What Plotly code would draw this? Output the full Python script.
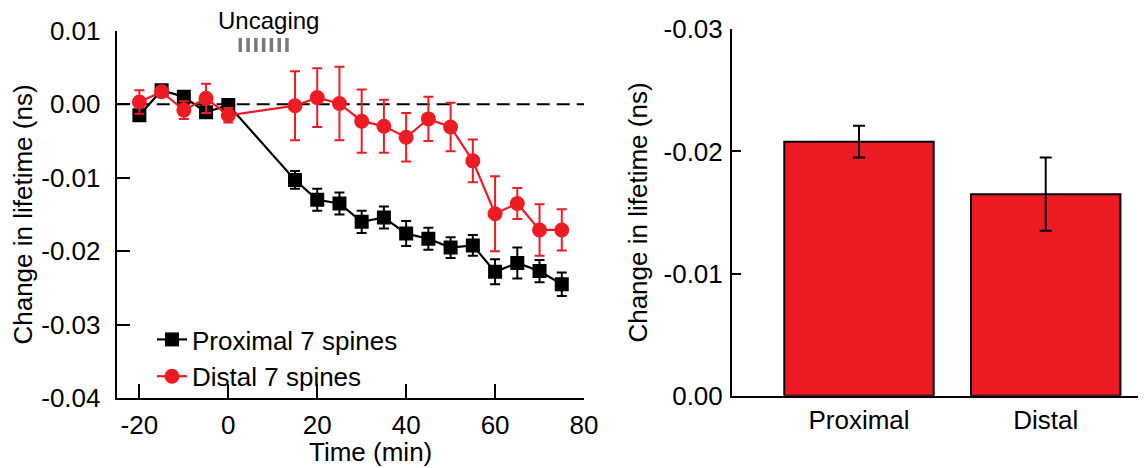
import plotly.graph_objects as go

# ---------------- data ----------------
time_min = [-20, -15, -10, -5, 0, 15, 20, 25, 30, 35, 40, 45, 50, 55, 60, 65, 70, 75]

proximal_mean = [-0.0015, 0.0019, 0.0010, -0.0011, -0.0001, -0.0103, -0.0130, -0.0135,
                 -0.0160, -0.0154, -0.0176, -0.0183, -0.0195, -0.0192, -0.0228, -0.0216,
                 -0.0227, -0.0245]
proximal_err = [0.0006, 0.0005, 0.0006, 0.0006, 0.0005, 0.0012, 0.0015, 0.0015,
                0.0015, 0.0015, 0.0017, 0.0015, 0.0014, 0.0014, 0.0017, 0.0021,
                0.0015, 0.0016]

distal_mean = [0.0003, 0.0017, -0.0008, 0.0008, -0.0015, -0.0002, 0.0009, 0.0001,
               -0.0023, -0.0030, -0.0045, -0.0020, -0.0031, -0.0077, -0.0149, -0.0135,
               -0.0171, -0.0171]
distal_err = [0.0016, 0.0006, 0.0012, 0.0020, 0.0010, 0.0047, 0.0040, 0.0050,
              0.0043, 0.0036, 0.0033, 0.0030, 0.0033, 0.0029, 0.0051, 0.0021,
              0.0035, 0.0028]

uncaging_times = [2.7, 4.45, 6.2, 7.95, 9.7, 11.45, 13.2]
uncaging_mark_low = 0.0071
uncaging_mark_high = 0.0090

bar_categories = ["Proximal", "Distal"]
bar_mean = [-0.0208, -0.0165]
bar_err = [0.0013, 0.0030]

left_xticks = [-20, 0, 20, 40, 60, 80]
left_xticklabels = ["-20", "0", "20", "40", "60", "80"]
left_yticks = [0.01, 0.0, -0.01, -0.02, -0.03, -0.04]
left_yticklabels = ["0.01", "0.00", "-0.01", "-0.02", "-0.03", "-0.04"]
right_yticks = [-0.03, -0.02, -0.01, 0.0]
right_yticklabels = ["-0.03", "-0.02", "-0.01", "0.00"]

# ---------------- style ----------------
RED = "#ED1C24"
BLACK = "#000000"
FONT = "Arial, Liberation Sans, sans-serif"
FS = 26
# page has an 8px body margin: figure drawn 8px in from the top-left
OFF = 8
W, H = 1146 - OFF, 468 - OFF


def px_x(p):
    return (p - OFF) / W


def px_y(p):
    return 1 - (p - OFF) / H


fig = go.Figure()

# uncaging marks
ux, uy = [], []
for t in uncaging_times:
    ux += [t, t, None]
    uy += [uncaging_mark_low, uncaging_mark_high, None]
fig.add_trace(go.Scatter(x=ux, y=uy, mode="lines", line=dict(color="#7a7a7a", width=3.5),
                         showlegend=False, hoverinfo="skip", xaxis="x", yaxis="y"))

fig.add_trace(go.Scatter(
    x=time_min, y=proximal_mean, mode="lines+markers", name="Proximal 7 spines",
    line=dict(color=BLACK, width=2.2),
    marker=dict(symbol="square", size=14, color=BLACK),
    error_y=dict(type="data", array=proximal_err, color=BLACK, thickness=2, width=5),
    xaxis="x", yaxis="y"))

fig.add_trace(go.Scatter(
    x=time_min, y=distal_mean, mode="lines+markers", name="Distal 7 spines",
    line=dict(color=RED, width=2.2),
    marker=dict(symbol="circle", size=15, color=RED),
    error_y=dict(type="data", array=distal_err, color=RED, thickness=2, width=5),
    xaxis="x", yaxis="y"))

fig.add_trace(go.Bar(
    x=bar_categories, y=bar_mean, base=0,
    marker=dict(color=RED, line=dict(color=BLACK, width=2)),
    error_y=dict(type="data", array=bar_err, color=BLACK, thickness=2, width=6),
    showlegend=False, xaxis="x2", yaxis="y2"))

# dashed zero line on left panel
fig.add_shape(type="line", xref="x domain", yref="y", x0=0, x1=1, y0=0, y1=0,
              line=dict(color=BLACK, width=2, dash="13px,7px"), layer="below")

fig.add_annotation(text="Uncaging", xref="x", yref="paper", x=9, y=px_y(21),
                   showarrow=False, font=dict(family=FONT, size=24, color=BLACK),
                   xanchor="center", yanchor="middle")

fig.add_annotation(text="Time (min)", xref="x", yref="paper", x=32, y=px_y(452),
                   showarrow=False, font=dict(family=FONT, size=FS, color=BLACK),
                   xanchor="center", yanchor="middle")

axis_common = dict(showline=True, linecolor=BLACK, linewidth=2, showgrid=False,
                   zeroline=False, ticks="inside", tickcolor=BLACK, tickwidth=2,
                   tickfont=dict(family=FONT, size=FS, color=BLACK), automargin=False)

fig.update_layout(
    width=W, height=H, autosize=False,
    margin=dict(l=0, r=0, t=0, b=0),
    paper_bgcolor="white", plot_bgcolor="white",
    font=dict(family=FONT, size=FS, color=BLACK),
    bargap=0.2,
    xaxis=dict(**axis_common, domain=[px_x(116.7), px_x(584)], range=[-25.1, 80],
               tickvals=left_xticks, ticktext=left_xticklabels, ticklen=14,
               ticklabelstandoff=2, anchor="y"),
    yaxis=dict(**axis_common, domain=[px_y(398.3), px_y(30.7)], range=[-0.04, 0.01],
               tickvals=left_yticks, ticktext=left_yticklabels, ticklen=13,
               ticklabelstandoff=9, anchor="x",
               title=dict(text="Change in lifetime (ns)", font=dict(family=FONT, size=FS), standoff=8)),
    xaxis2=dict(showline=True, linecolor=BLACK, linewidth=2, showgrid=False, zeroline=False,
                ticks="", tickfont=dict(family=FONT, size=FS, color=BLACK), automargin=False,
                domain=[px_x(732), 1.0], range=[-0.68, 1.537], anchor="y2",
                ticklabelstandoff=0),
    yaxis2=dict(**axis_common, domain=[px_y(395.7), px_y(29.3)], range=[0, -0.03],
                tickvals=right_yticks, ticktext=right_yticklabels, ticklen=9,
                ticklabelstandoff=2, anchor="x2",
                title=dict(text="Change in lifetime (ns)", font=dict(family=FONT, size=FS), standoff=8)),
    legend=dict(x=px_x(152), y=px_y(316), xanchor="left", yanchor="top",
                bgcolor="rgba(0,0,0,0)", borderwidth=0,
                font=dict(family=FONT, size=FS, color=BLACK),
                tracegroupgap=0, itemwidth=30),
)

fig.write_html("out.html")
